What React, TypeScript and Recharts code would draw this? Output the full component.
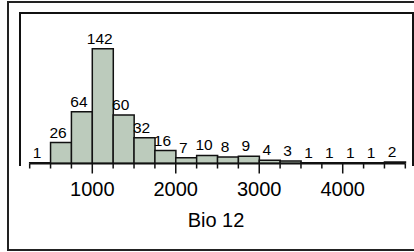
import React from 'react';
import { BarChart, Bar, XAxis, YAxis, LabelList, ReferenceLine } from 'recharts';

// Histogram bins (lower edges), width 250
const binStarts = [250, 500, 750, 1000, 1250, 1500, 1750, 2000, 2250, 2500, 2750, 3000, 3250, 3500, 3750, 4000, 4250, 4500];
const counts = [1, 26, 64, 142, 60, 32, 16, 7, 10, 8, 9, 4, 3, 1, 1, 1, 1, 2];
const binWidth = 250;
const tickValues = [250, 500, 750, 1000, 1250, 1500, 1750, 2000, 2250, 2500, 2750, 3000, 3250, 3500, 3750, 4000, 4250, 4500, 4750];
const majorTicks = [1000, 2000, 3000, 4000];
const axisTitle = 'Bio 12';

const data = binStarts.map((s, i) => ({ mid: s + binWidth / 2, count: counts[i] }));

const FONT = '"Liberation Sans", Arial, sans-serif';

const Tick = (props: any) => {
  const { x, y, payload } = props;
  const major = majorTicks.includes(payload.value);
  return (
    <g>
      <line x1={x} x2={x} y1={y} y2={y + (major ? 10 : 5)} stroke="#111" strokeWidth={1.5} />
      {major && (
        <text x={x} y={y + 32} textAnchor="middle" fontSize={20} fill="#000" fontFamily={FONT}>
          {payload.value}
        </text>
      )}
    </g>
  );
};

export default function App() {
  return (
    <div style={{ position: 'absolute', left: 0, top: 0, width: 414, height: 252, fontFamily: FONT, background: '#fff' }}>
      <div style={{ position: 'absolute', left: 7, top: 1, width: 420, height: 250, border: '2px solid #222', boxSizing: 'border-box' }} />
      <div style={{ position: 'absolute', left: 19, top: 11.5, width: 394.5, height: 154, borderLeft: '2px solid #111', borderTop: '2px solid #111', borderRight: '2px solid #111', boxSizing: 'border-box' }} />
      <div style={{ position: 'absolute', left: 0, top: 0 }}>
        <BarChart
          width={414}
          height={252}
          data={data}
          margin={{ top: 12.5, right: 2, bottom: 0, left: 20 }}
          barCategoryGap={0}
          barGap={0}
        >
          <XAxis
            dataKey="mid"
            type="number"
            domain={[134, 4830]}
            allowDataOverflow
            ticks={tickValues}
            interval={0}
            tick={<Tick />}
            tickLine={false}
            tickSize={0}
            tickMargin={0}
            axisLine={false}
            height={88.5}
            label={{ value: axisTitle, position: 'insideBottom', offset: 25, fontSize: 20, fill: '#000', fontFamily: FONT }}
          />
          <YAxis hide width={0} domain={[0, 187]} allowDataOverflow />
          <Bar dataKey="count" fill="#bccbbc" stroke="#111" strokeWidth={1.5} isAnimationActive={false}>
            <LabelList dataKey="count" position="top" offset={5} dx={-3} fontSize={15.5} fill="#000" fontFamily={FONT} />
          </Bar>
          <ReferenceLine segment={[{ x: 250, y: 0 }, { x: 4750, y: 0 }]} stroke="#111" strokeWidth={2} />
        </BarChart>
      </div>
    </div>
  );
}
